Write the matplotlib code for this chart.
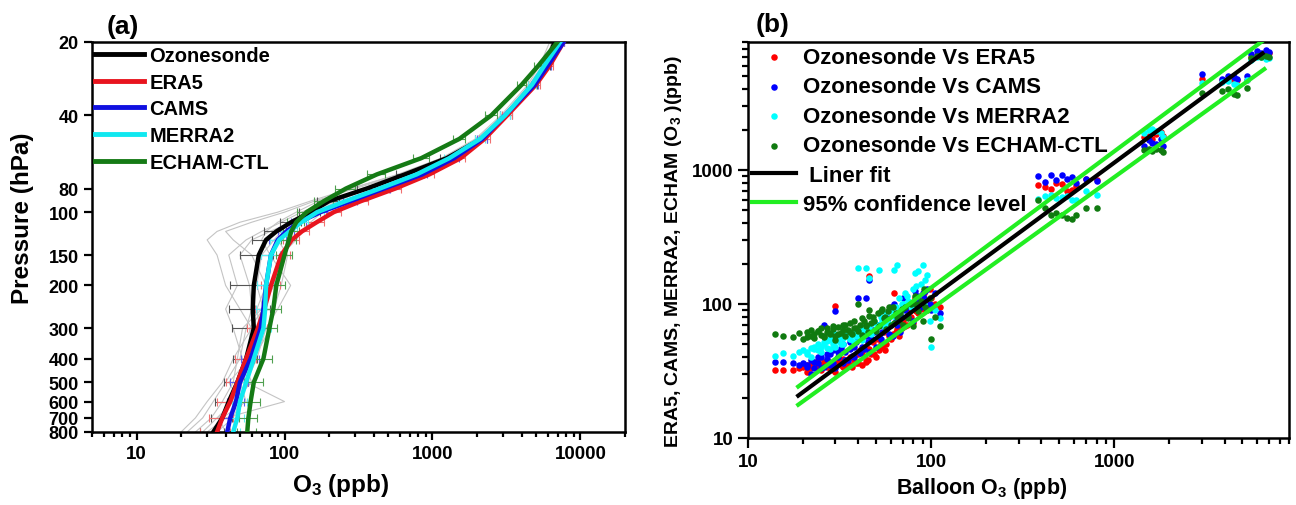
import matplotlib
matplotlib.use('Agg')
import matplotlib.pyplot as plt
from matplotlib.ticker import FixedLocator, NullLocator, NullFormatter, LogLocator, FixedFormatter

plt.rcParams['font.family'] = ['Liberation Sans', 'DejaVu Sans']
plt.rcParams['font.weight'] = 'bold'
plt.rcParams['mathtext.fontset'] = 'custom'
plt.rcParams['mathtext.rm'] = 'Liberation Sans:bold'
plt.rcParams['mathtext.it'] = 'Liberation Sans:bold'
plt.rcParams['mathtext.bf'] = 'Liberation Sans:bold'

# ---------------- Panel (a) data: mean profiles ----------------
pressure = [800, 700, 600, 500, 400, 300, 250, 200, 150, 130, 120, 110, 100, 90, 80, 70, 60, 50, 40, 30, 25, 20]
sonde = [33, 38, 42, 48, 55, 62, 61, 62, 67, 75, 88, 111, 150, 200, 360, 650, 1250, 2150, 3150, 4750, 5800, 6700]
era5 = [35, 38, 43, 48, 55, 66, 73, 81, 95, 112, 131, 165, 215, 330, 560, 950, 1550, 2250, 3200, 5000, 6200, 7700]
cams = [41, 43, 47, 50, 59, 69, 72, 75, 81, 90, 103, 125, 175, 280, 470, 850, 1400, 2170, 3090, 4900, 6000, 7700]
merra2 = [45, 48, 50, 55, 62, 72, 74, 75, 81, 92, 108, 130, 166, 260, 440, 780, 1300, 2100, 3100, 4700, 5700, 7300]
echam = [56, 57, 59, 62, 72, 79, 84, 88, 100, 107, 111, 120, 141, 185, 260, 420, 840, 1520, 2500, 4000, 5200, 7000]

sonde_err = [6, 6, 8, 9, 10, 18, 19, 19, 17, 15, 15, 18, 25, 35, 50, 80, 120, 200, 280, 350, 400, 0]
era5_err = [8, 7, 8, 8, 9, 10, 10, 12, 14, 14, 15, 20, 25, 35, 50, 80, 120, 180, 250, 300, 350, 0]
cams_err = [5, 5, 6, 7, 8, 9, 10, 10, 12, 12, 13, 15, 20, 30, 45, 70, 110, 170, 230, 300, 350, 0]
merra2_err = [5, 5, 6, 7, 8, 9, 10, 10, 12, 12, 13, 15, 20, 30, 45, 70, 110, 170, 230, 300, 350, 0]
echam_err = [8, 8, 9, 9, 10, 10, 11, 12, 13, 13, 14, 16, 20, 28, 40, 60, 100, 150, 220, 300, 350, 0]

# individual ozonesonde profiles (thin grey)
grey_1 = [22, 28, 33, 40, 50, 55, 60, 58, 50, 60, 80, 110, 150, 220, 380, 700, 1300, 2100, 3100, 4600, 5600, 6600]
grey_2 = [28, 35, 45, 60, 52, 45, 40, 48, 42, 55, 70, 95, 130, 200, 330, 650, 1200, 2000, 3000, 4500, 5500, 6500]
grey_3 = [30, 40, 100, 55, 65, 75, 90, 110, 80, 70, 75, 90, 120, 170, 280, 600, 1150, 2100, 3200, 4800, 5800, 6400]
grey_4 = [25, 32, 38, 45, 48, 52, 70, 85, 95, 120, 130, 150, 180, 250, 400, 750, 1350, 2200, 3200, 4700, 5700, 6800]
grey_5 = [35, 45, 50, 42, 58, 68, 65, 75, 60, 45, 40, 60, 100, 160, 300, 620, 1200, 2000, 3100, 4700, 5800, 6900]
grey_6 = [20, 25, 30, 38, 45, 60, 50, 40, 35, 30, 35, 50, 90, 150, 280, 580, 1150, 1950, 2900, 4400, 5300, 6200]
grey_7 = [32, 38, 55, 50, 62, 80, 85, 95, 105, 90, 100, 125, 160, 230, 360, 680, 1250, 2150, 3150, 4700, 5700, 6700]
grey_8 = [40, 36, 44, 52, 60, 58, 72, 65, 70, 85, 95, 105, 140, 210, 350, 640, 1250, 2050, 3100, 4600, 5600, 6500]

# ---------------- Panel (b) data: scatter ----------------
balloon = [14, 15.5, 17.5, 19, 20, 21, 22, 22, 23, 24, 25, 25, 26, 27, 28, 29, 30, 30, 31, 32,
           33, 34, 35, 36, 37, 38, 40, 40, 41, 42, 43, 44, 45, 46, 47, 48, 50, 51, 52, 54,
           55, 57, 58, 60, 62, 63, 65, 67, 68, 70, 72, 75, 78, 80, 82, 85, 88, 90, 92, 95,
           98, 100, 105, 112,
           21, 23, 24, 26, 27, 28, 29, 31, 33, 34, 36, 38, 39, 42, 44, 46, 49, 53, 56, 59,
           64, 69, 74, 83, 93,
           385, 420, 450, 480, 520, 550, 590, 620, 700, 800,
           1450, 1550, 1600, 1700, 1800, 1850,
           3000, 3900, 4200, 4500, 4700, 5300,
           5600, 6000, 6300, 6700, 7000]
model_era5 = [32, 32, 32, 33, 34, 35, 33, 36, 34, 38, 32, 35, 36, 38, 33, 35, 97, 31, 37, 35,
              39, 33, 36, 40, 34, 38, 36, 42, 45, 35, 40, 48, 38, 163, 42, 52, 40, 55, 45, 48,
              62, 50, 68, 55, 60, 120, 65, 58, 70, 75, 68, 90, 80, 72, 110, 85, 100, 92, 120, 95,
              130, 110, 100, 95,
              31, 35, 33, 37, 34, 36, 32, 40, 34, 38, 35, 41, 36, 44, 37, 46, 42, 50, 45, 58,
              62, 66, 70, 88, 105,
              770, 740, 720, 800, 785, 700, 710, 760, 855, 840,
              1750, 1800, 1700, 1850, 1930, 1800,
              4800, 4700, 4800, 4600, 4700, 4700,
              7000, 7200, 7300, 7200, 7400]
model_cams = [37, 37, 36, 35, 36, 34, 30, 38, 33, 36, 40, 33, 70, 42, 35, 45, 88, 33, 40, 47,
              36, 44, 38, 52, 41, 48, 110, 55, 43, 60, 46, 110, 52, 150, 56, 64, 48, 70, 58, 62,
              72, 66, 78, 95, 58, 100, 70, 85, 62, 110, 90, 80, 100, 75, 125, 115, 95, 120, 110, 130,
              100, 90, 120, 85,
              35, 37, 40, 34, 39, 42, 36, 44, 50, 38, 46, 40, 52, 48, 58, 44, 62, 55, 68, 60,
              75, 80, 95, 105, 125,
              900, 810, 915, 840, 915, 860, 885, 800, 860, 830,
              1500, 1680, 1600, 1550, 1700, 1500,
              5180, 4800, 5000, 4900, 4800, 5000,
              7300, 7700, 7500, 7800, 7600]
model_merra2 = [41, 43, 41, 44, 45, 42, 47, 40, 46, 50, 48, 44, 52, 47, 55, 50, 60, 48, 53, 50,
                56, 62, 58, 55, 60, 52, 187, 58, 65, 54, 62, 184, 66, 157, 60, 72, 65, 70, 178, 75,
                68, 85, 72, 90, 82, 178, 196, 110, 88, 100, 120, 105, 95, 130, 170, 175, 140, 196, 100, 165,
                75, 48, 90, 78,
                44, 48, 45, 50, 53, 46, 52, 57, 50, 60, 55, 62, 58, 64, 70, 66, 75, 80, 72, 88,
                95, 100, 115, 135, 150,
                605, 640, 650, 620, 625, 640, 595, 600, 700, 650,
                1900, 2000, 2030, 1950, 1900, 1750,
                4430, 4500, 4580, 4400, 4300, 4700,
                6600, 6900, 7000, 6700, 6800]
model_echam = [60, 58, 57, 61, 55, 62, 58, 64, 56, 63, 59, 66, 57, 62, 60, 65, 58, 54, 67, 61,
               70, 58, 64, 72, 60, 66, 100, 63, 70, 59, 75, 68, 62, 90, 72, 80, 63, 85, 68, 92,
               78, 65, 88, 70, 95, 72, 80, 75, 85, 70, 95, 78, 100, 68, 115, 88, 105, 75, 130, 90,
               110, 55, 80, 68,
               57, 60, 63, 58, 66, 61, 69, 60, 64, 70, 62, 74, 66, 78, 70, 82, 75, 88, 80, 95,
               85, 92, 82, 100, 95,
               595, 520, 460, 480, 460, 440, 430, 460, 518, 518,
               1400, 1440, 1380, 1420, 1410, 1350,
               3730, 3900, 4000, 3700, 3600, 4060,
               6800, 7100, 6900, 7100, 7000]

fit_x = [18.8, 6450]
fit_y = [20.7, 7400]
conf_upper_x = [18.8, 6450]
conf_upper_y = [24.2, 9150]
conf_lower_x = [18.8, 6600]
conf_lower_y = [17.7, 5650]

a_yticks = [20, 40, 80, 100, 150, 200, 300, 400, 500, 600, 700, 800]

W, H = 1296, 506
fig = plt.figure(figsize=(W / 100, H / 100), dpi=100)

def fr(x0, y0, x1, y1):
    return [x0 / W, 1 - y1 / H, (x1 - x0) / W, (y1 - y0) / H]

C_RED = '#e8141e'
C_BLUE = '#1010e0'
C_CYAN = '#10e8f0'
C_GREEN = '#157a15'

# ---------------- Panel (a) ----------------
ax = fig.add_axes(fr(92, 43, 625, 433))
for g in [grey_1, grey_2, grey_3, grey_4, grey_5, grey_6, grey_7, grey_8]:
    ax.plot(g, pressure, color='#c4c4c4', lw=0.8, zorder=1)

series = [
    (sonde, sonde_err, 'black', '#555555', 'Ozonesonde'),
    (era5, era5_err, C_RED, '#f07070', 'ERA5'),
    (cams, cams_err, C_BLUE, '#6060f0', 'CAMS'),
    (merra2, merra2_err, C_CYAN, '#60f0f0', 'MERRA2'),
    (echam, echam_err, C_GREEN, '#50a050', 'ECHAM-CTL'),
]
for vals, err, col, ecol, lab in series:
    ax.errorbar(vals, pressure, xerr=err, fmt='none', ecolor=ecol, elinewidth=0.8,
                capsize=3, capthick=0.8, zorder=2)
for vals, err, col, ecol, lab in series:
    ax.plot(vals, pressure, color=col, lw=3.2, label=lab, zorder=3)

ax.set_xscale('log')
ax.set_yscale('log')
ax.set_xlim(5, 20000)
ax.set_ylim(800, 20)
ax.yaxis.set_major_locator(FixedLocator(a_yticks))
ax.yaxis.set_major_formatter(FixedFormatter([str(t) for t in a_yticks]))
ax.yaxis.set_minor_locator(NullLocator())
ax.xaxis.set_minor_locator(LogLocator(base=10, subs=range(2, 10), numticks=20))
ax.xaxis.set_minor_formatter(NullFormatter())
ax.set_xticks([10, 100, 1000, 10000])
ax.set_xticklabels(['10', '100', '1000', '10000'])
ax.tick_params(which='both', direction='out', top=False, right=False, width=1.6, labelsize=13.5)
ax.tick_params(axis='y', labelsize=13)
ax.tick_params(which='major', length=6)
ax.tick_params(which='minor', length=3.5)
for s in ax.spines.values():
    s.set_linewidth(1.8)
leg = ax.legend(loc='upper left', bbox_to_anchor=(95 / W, 1 - 47 / H),
                bbox_transform=fig.transFigure, frameon=False, fontsize=14.5,
                handlelength=2.45, handletextpad=0.25, labelspacing=0.38,
                borderpad=0, borderaxespad=0)
for l in leg.get_lines():
    l.set_linewidth(3.5)

fig.text(123 / W, 1 - 27 / H, '(a)', fontsize=19, ha='center', va='center')
fig.text(23 / W, 1 - 218 / H, 'Pressure (hPa)', fontsize=17.5, rotation=90, ha='center', va='center')
fig.text(341 / W, 1 - 486 / H, 'O$_3$ (ppb)', fontsize=17.5, ha='center', va='center')

# ---------------- Panel (b) ----------------
bx = fig.add_axes(fr(748, 43, 1289, 439))
bx.scatter(balloon, model_era5, s=22, color='red', label='Ozonesonde Vs ERA5', zorder=2, linewidths=0)
bx.scatter(balloon, model_cams, s=22, color='#0000ff', label='Ozonesonde Vs CAMS', zorder=2, linewidths=0)
bx.scatter(balloon, model_merra2, s=22, color='cyan', label='Ozonesonde Vs MERRA2', zorder=2, linewidths=0)
bx.scatter(balloon, model_echam, s=22, color='#107a10', label='Ozonesonde Vs ECHAM-CTL', zorder=2, linewidths=0)
bx.plot(fit_x, fit_y, color='black', lw=3, label=' Liner fit', zorder=3)
bx.plot(conf_upper_x, conf_upper_y, color='#22ee22', lw=3, label='95% confidence level', zorder=3)
bx.plot(conf_lower_x, conf_lower_y, color='#22ee22', lw=3, zorder=3)

bx.set_xscale('log')
bx.set_yscale('log')
bx.set_xlim(10, 9000)
bx.set_ylim(10, 9000)
bx.set_xticks([10, 100, 1000])
bx.set_xticklabels(['10', '100', '1000'])
bx.set_yticks([10, 100, 1000])
bx.set_yticklabels(['10', '100', '1000'])
bx.xaxis.set_minor_locator(LogLocator(base=10, subs=range(2, 10), numticks=20))
bx.yaxis.set_minor_locator(LogLocator(base=10, subs=range(2, 10), numticks=20))
bx.xaxis.set_minor_formatter(NullFormatter())
bx.yaxis.set_minor_formatter(NullFormatter())
bx.tick_params(which='both', direction='out', top=False, right=False, width=1.6, labelsize=13.5)
bx.tick_params(which='major', length=7)
bx.tick_params(which='minor', length=4)
for s in bx.spines.values():
    s.set_linewidth(1.8)
leg2 = bx.legend(loc='upper left', bbox_to_anchor=(752 / W, 1 - 48 / H),
                 bbox_transform=fig.transFigure, frameon=False, fontsize=16,
                 handlelength=2.0, handletextpad=0.3, labelspacing=0.38,
                 borderpad=0, borderaxespad=0, scatterpoints=1, markerscale=1.0)

fig.text(773 / W, 1 - 25 / H, '(b)', fontsize=19, ha='center', va='center')
fig.text(673 / W, 1 - 252 / H, 'ERA5, CAMS, MERRA2, ECHAM (O$_3$ )(ppb)', fontsize=14,
         rotation=90, ha='center', va='center')
fig.text(982 / W, 1 - 489 / H, 'Balloon O$_3$ (ppb)', fontsize=15.5, ha='center', va='center')

fig.savefig('out.png', dpi=100)
